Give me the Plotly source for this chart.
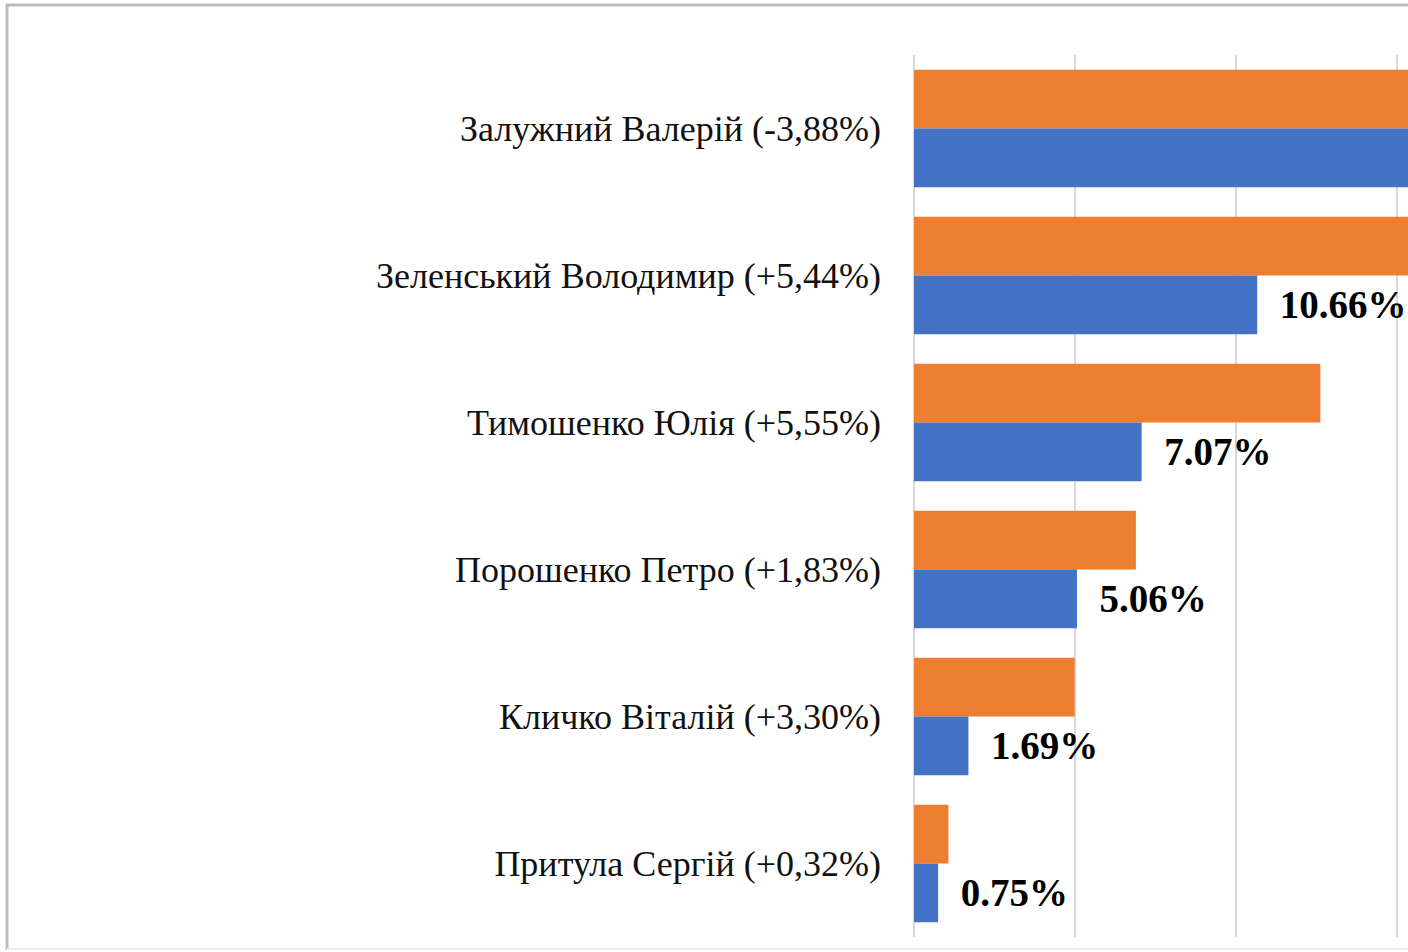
import plotly.graph_objects as go

categories = [
    "Залужний Валерій (-3,88%)",
    "Зеленський Володимир (+5,44%)",
    "Тимошенко Юлія (+5,55%)",
    "Порошенко Петро (+1,83%)",
    "Кличко Віталій (+3,30%)",
    "Притула Сергій (+0,32%)",
]
blue_values = [25.36, 10.66, 7.07, 5.06, 1.69, 0.75]
orange_values = [21.48, 16.10, 12.62, 6.89, 4.99, 1.07]

W, H = 1408, 952
L, R, T, B = 914, 0, 55, 15
pw, ph = W - L - R, H - T - B
xmax = pw / 32.2

labels = [("\u00a0\u00a0" + f"{v:.2f}%") if v < xmax else "" for v in blue_values]

fig = go.Figure()
fig.add_trace(go.Bar(
    y=categories, x=orange_values, orientation="h",
    marker=dict(color="#ED7D31", line=dict(width=0)),
    name="orange", hoverinfo="x",
))
fig.add_trace(go.Bar(
    y=categories, x=blue_values, orientation="h",
    marker=dict(color="#4472C4", line=dict(width=0)),
    name="blue",
    text=labels,
    textposition="outside", cliponaxis=False,
    textfont=dict(family="Liberation Serif", size=39, color="#000000", weight="bold"),
))

def px_x(p):
    return (p - L) / pw

def px_y(p):
    return (H - B - p) / ph

fig.update_layout(
    width=W, height=H,
    margin=dict(l=L, r=R, t=T, b=B, pad=0),
    barmode="group", bargap=0.2, bargroupgap=0,
    showlegend=False,
    plot_bgcolor="white", paper_bgcolor="white",
    xaxis=dict(range=[0, xmax], dtick=5, showticklabels=False,
               showgrid=True, gridcolor="#d9d9d9", gridwidth=2,
               zeroline=True, zerolinecolor="#d9d9d9", zerolinewidth=2,
               showline=False, fixedrange=True),
    yaxis=dict(autorange="reversed", showgrid=False, showline=False,
               ticks="", ticklabelstandoff=32,
               tickfont=dict(family="Liberation Serif", size=36, color="#111111")),
    shapes=[
        dict(type="line", xref="paper", yref="paper",
             x0=px_x(7), x1=px_x(7), y0=px_y(4), y1=px_y(950),
             line=dict(color="#bdbdbd", width=3)),
        dict(type="line", xref="paper", yref="paper",
             x0=px_x(6), x1=px_x(1410), y0=px_y(5), y1=px_y(5),
             line=dict(color="#bdbdbd", width=3)),
        dict(type="line", xref="paper", yref="paper",
             x0=px_x(7), x1=px_x(1410), y0=px_y(949), y1=px_y(949),
             line=dict(color="#ececec", width=2)),
    ],
)

fig.write_html(
    "out.html",
    config={"displayModeBar": False},
    post_script="document.body.style.margin='0';document.body.style.overflow='hidden';",
)
